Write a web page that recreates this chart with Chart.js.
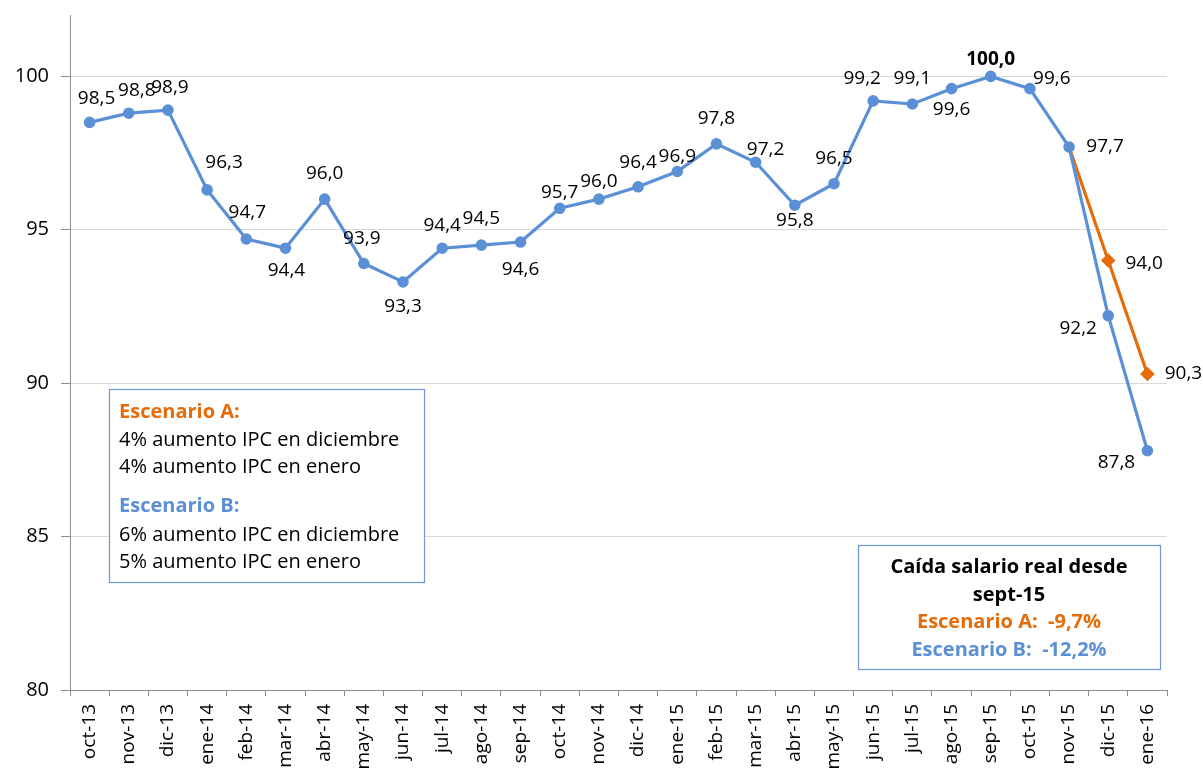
<!DOCTYPE html>
<html lang="es">
<head>
<meta charset="UTF-8">
<title>Salario real</title>
<script src="https://cdn.jsdelivr.net/npm/chart.js"></script>
<style>
  body { margin: 0; background: #fff; }
  canvas { display: block; }
</style>
</head>
<body>
<canvas id="chart" width="1203" height="770"></canvas>
<script>
// months on the x axis
const meses = ["oct-13", "nov-13", "dic-13", "ene-14", "feb-14", "mar-14", "abr-14", "may-14",
  "jun-14", "jul-14", "ago-14", "sep-14", "oct-14", "nov-14", "dic-14", "ene-15", "feb-15",
  "mar-15", "abr-15", "may-15", "jun-15", "jul-15", "ago-15", "sep-15", "oct-15", "nov-15",
  "dic-15", "ene-16"];

// scenario B (blue) - full history
const escenarioB = [98.5, 98.8, 98.9, 96.3, 94.7, 94.4, 96.0, 93.9, 93.3, 94.4, 94.5, 94.6,
  95.7, 96.0, 96.4, 96.9, 97.8, 97.2, 95.8, 96.5, 99.2, 99.1, 99.6, 100.0, 99.6, 97.7,
  92.2, 87.8];

// scenario A (orange) - only the projection
const escenarioA = [null, null, null, null, null, null, null, null, null, null, null, null,
  null, null, null, null, null, null, null, null, null, null, null, null, null, 97.7,
  94.0, 90.3];

const yTicks = [80, 85, 90, 95, 100];

const AZUL = "#5B8FD6";
const NARANJA = "#E46C0A";
const FONT = "'Open Sans', sans-serif";

// where each value label sits relative to its point (dx, dy in px)
const posB = [[7,-24],[8,-23],[2,-23],[17,-27],[1,-26],[1,22],[0,-25],[-2,-25],[0,25],[0,-23],
  [0,-27],[0,28],[0,-16],[0,-17],[0,-24],[0,-15],[0,-25],[10,-13],[0,15],[0,-25],[-11,-22],
  [0,-25],[0,21],[0,-17],[22,-10],[36,0],[-30,13],[-31,12]];
const posA = {26: [36, 3], 27: [36, 0]};
const inicioA = escenarioA.findIndex(v => v !== null);

const fmt = v => v.toFixed(1).replace(".", ",");

const labelsPlugin = {
  id: "valueLabels",
  afterDatasetsDraw(chart) {
    const ctx = chart.ctx;
    ctx.save();
    ctx.textAlign = "center";
    ctx.textBaseline = "middle";
    ctx.fillStyle = "#000";
    const mB = chart.getDatasetMeta(0);
    mB.data.forEach((pt, i) => {
      const [dx, dy] = posB[i];
      ctx.font = (i === 23 ? "bold " : "") + "19px " + FONT;
      ctx.fillText(fmt(escenarioB[i]), pt.x + dx, pt.y + dy);
    });
    const mA = chart.getDatasetMeta(1);
    ctx.font = "19px " + FONT;
    Object.keys(posA).forEach(k => {
      const i = +k;
      const pt = mA.data[i];
      ctx.fillText(fmt(escenarioA[i]), pt.x + posA[k][0], pt.y + posA[k][1]);
    });
    ctx.restore();
  }
};

const boxesPlugin = {
  id: "textBoxes",
  afterDraw(chart) {
    const ctx = chart.ctx;
    ctx.save();
    ctx.strokeStyle = "#6C9AD6";
    ctx.lineWidth = 1.2;
    ctx.fillStyle = "#fff";

    // scenario description box
    ctx.fillRect(109, 389, 315, 193);
    ctx.strokeRect(109.5, 389.5, 315, 193);
    ctx.textAlign = "left";
    ctx.textBaseline = "middle";
    const lineasA = [
      ["Escenario A:", NARANJA, true, 412],
      ["4% aumento IPC en diciembre", "#000", false, 440],
      ["4% aumento IPC en enero", "#000", false, 467],
      ["Escenario B:", AZUL, true, 506],
      ["6% aumento IPC en diciembre", "#000", false, 535],
      ["5% aumento IPC en enero", "#000", false, 562]
    ];
    lineasA.forEach(([t, c, b, y]) => {
      ctx.fillStyle = c;
      ctx.font = (b ? "bold " : "") + "20px " + FONT;
      ctx.fillText(t, 119, y);
    });

    // real wage drop box
    ctx.fillStyle = "#fff";
    ctx.fillRect(858, 545, 302, 124);
    ctx.strokeRect(858.5, 545.5, 302, 124);
    ctx.textAlign = "center";
    const lineasB = [
      ["Caída salario real desde", "#000", 567],
      ["sept-15", "#000", 595],
      ["Escenario A:  -9,7%", NARANJA, 622],
      ["Escenario B:  -12,2%", AZUL, 650]
    ];
    lineasB.forEach(([t, c, y]) => {
      ctx.fillStyle = c;
      ctx.font = "bold 20px " + FONT;
      ctx.fillText(t, 1009, y);
    });
    ctx.restore();
  }
};

new Chart(document.getElementById("chart").getContext("2d"), {
  type: "line",
  data: {
    labels: meses,
    datasets: [
      {
        label: "Escenario B",
        data: escenarioB,
        borderColor: AZUL,
        backgroundColor: AZUL,
        borderWidth: 3.2,
        pointRadius: 4.2,
        pointHoverRadius: 4.2,
        tension: 0
      },
      {
        label: "Escenario A",
        data: escenarioA,
        borderColor: NARANJA,
        backgroundColor: NARANJA,
        borderWidth: 3.2,
        pointStyle: "rectRot",
        pointRadius: c => (c.dataIndex === inicioA ? 0 : 5),
        pointHoverRadius: c => (c.dataIndex === inicioA ? 0 : 5),
        tension: 0
      }
    ]
  },
  options: {
    responsive: false,
    animation: false,
    layout: { padding: { top: 15, right: 36, left: 0, bottom: 0 } },
    plugins: { legend: { display: false }, tooltip: { enabled: false } },
    scales: {
      x: {
        offset: true,
        grid: { offset: true, drawOnChartArea: false, drawTicks: true, tickLength: 6, color: "#8C8C8C" },
        border: { color: "#8C8C8C", width: 1 },
        ticks: { minRotation: 90, maxRotation: 90, autoSkip: false, padding: 8, color: "#000",
          font: { family: FONT, size: 19 } },
        afterFit: s => { s.height = 80; }
      },
      y: {
        min: 80,
        max: 102,
        afterBuildTicks: s => { s.ticks = yTicks.map(v => ({ value: v })); },
        grid: { color: "#D9D9D9", tickColor: "#8C8C8C", tickLength: 9 },
        border: { color: "#8C8C8C", width: 1 },
        ticks: { padding: 12, color: "#000", font: { family: FONT, size: 20 } },
        afterFit: s => { s.width = 70; s.paddingTop = 0; s.paddingBottom = 0; }
      }
    }
  },
  plugins: [labelsPlugin, boxesPlugin]
});
</script>
</body>
</html>
